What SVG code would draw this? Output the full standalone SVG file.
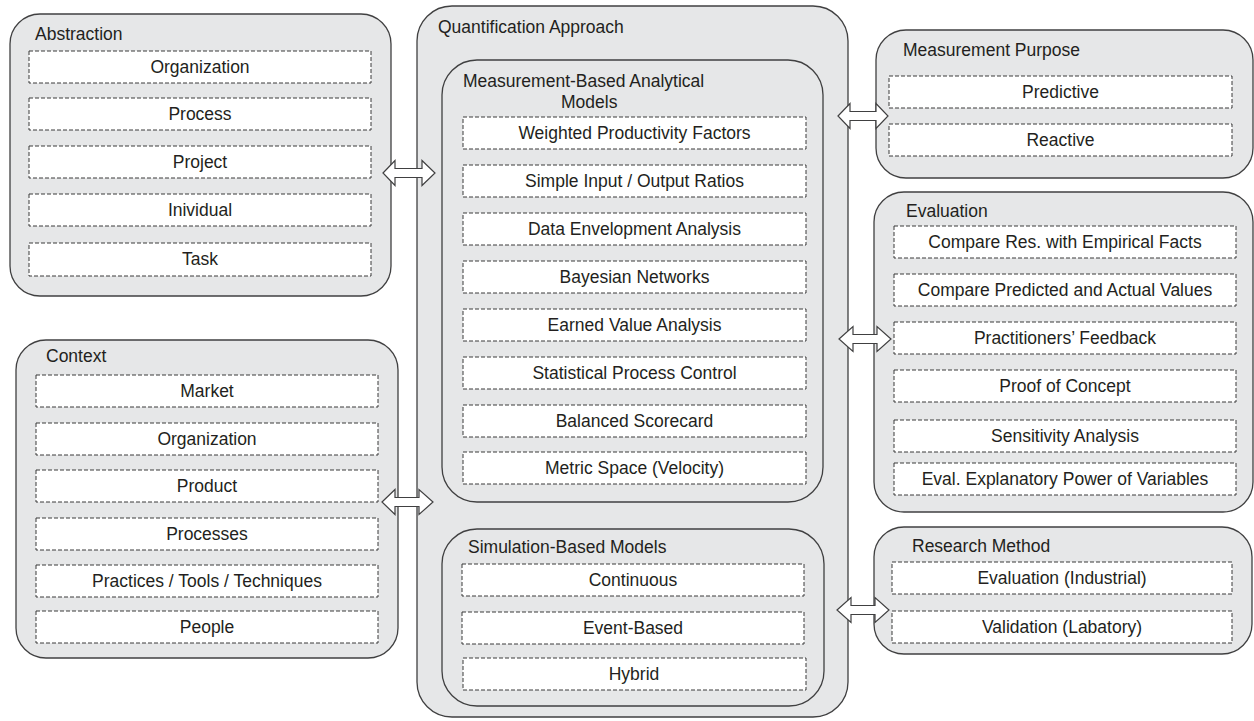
<svg xmlns="http://www.w3.org/2000/svg" width="1254" height="721" viewBox="0 0 1254 721">
  <style>
    .group { fill: #e6e7e8; stroke: #404041; stroke-width: 1.3; }
    .item { fill: #ffffff; stroke: #3a3a3b; stroke-width: 1; stroke-dasharray: 4 2; }
    .title { font-family: "Liberation Sans", Arial, sans-serif; font-size: 17.5px; fill: #231f20; }
    .label { font-family: "Liberation Sans", Arial, sans-serif; font-size: 17.5px; fill: #231f20; text-anchor: middle; }
    .link { fill: #ffffff; stroke: #404041; stroke-width: 1.2; stroke-linejoin: miter; }
  </style>
  <rect width="1254" height="721" fill="#ffffff"/>

  <!-- Abstraction -->
  <g id="abstraction">
    <rect class="group" x="10" y="14" width="381" height="282" rx="30"/>
    <text class="title" x="35" y="40">Abstraction</text>
    <rect class="item" x="29" y="51" width="342" height="32"/>
    <text class="label" x="200" y="73">Organization</text>
    <rect class="item" x="29" y="98" width="342" height="32"/>
    <text class="label" x="200" y="120">Process</text>
    <rect class="item" x="29" y="146" width="342" height="32"/>
    <text class="label" x="200" y="168">Project</text>
    <rect class="item" x="29" y="194" width="342" height="32"/>
    <text class="label" x="200" y="216">Inividual</text>
    <rect class="item" x="29" y="243" width="342" height="33"/>
    <text class="label" x="200" y="265">Task</text>
  </g>

  <!-- Context -->
  <g id="context">
    <rect class="group" x="16" y="340" width="382" height="318" rx="30"/>
    <text class="title" x="46" y="362">Context</text>
    <rect class="item" x="36" y="375" width="342" height="32"/>
    <text class="label" x="207" y="397">Market</text>
    <rect class="item" x="36" y="423" width="342" height="32"/>
    <text class="label" x="207" y="445">Organization</text>
    <rect class="item" x="36" y="470" width="342" height="32"/>
    <text class="label" x="207" y="492">Product</text>
    <rect class="item" x="36" y="518" width="342" height="32"/>
    <text class="label" x="207" y="540">Processes</text>
    <rect class="item" x="36" y="565" width="342" height="32"/>
    <text class="label" x="207" y="587">Practices / Tools / Techniques</text>
    <rect class="item" x="36" y="611" width="342" height="32"/>
    <text class="label" x="207" y="633">People</text>
  </g>

  <!-- Quantification Approach -->
  <g id="quantification">
    <rect class="group" x="417" y="6" width="431" height="711" rx="35"/>
    <text class="title" x="438" y="33">Quantification Approach</text>
  </g>

  <g id="measurement-based">
    <rect class="group" x="442" y="60" width="381" height="442" rx="35"/>
    <text class="title" x="463" y="87">Measurement-Based Analytical</text>
    <text class="title" x="561" y="108">Models</text>
    <rect class="item" x="463" y="117" width="343" height="32"/>
    <text class="label" x="634.5" y="139">Weighted Productivity Factors</text>
    <rect class="item" x="463" y="165" width="343" height="32"/>
    <text class="label" x="634.5" y="187">Simple Input / Output Ratios</text>
    <rect class="item" x="463" y="213" width="343" height="32"/>
    <text class="label" x="634.5" y="235">Data Envelopment Analysis</text>
    <rect class="item" x="463" y="261" width="343" height="32"/>
    <text class="label" x="634.5" y="283">Bayesian Networks</text>
    <rect class="item" x="463" y="309" width="343" height="32"/>
    <text class="label" x="634.5" y="331">Earned Value Analysis</text>
    <rect class="item" x="463" y="357" width="343" height="32"/>
    <text class="label" x="634.5" y="379">Statistical Process Control</text>
    <rect class="item" x="463" y="405" width="343" height="32"/>
    <text class="label" x="634.5" y="427">Balanced Scorecard</text>
    <rect class="item" x="463" y="452" width="343" height="32"/>
    <text class="label" x="634.5" y="474">Metric Space (Velocity)</text>
  </g>

  <g id="simulation-based">
    <rect class="group" x="442" y="529" width="382" height="177" rx="35"/>
    <text class="title" x="468" y="553">Simulation-Based Models</text>
    <rect class="item" x="462" y="564" width="342" height="32"/>
    <text class="label" x="633" y="586">Continuous</text>
    <rect class="item" x="462" y="612" width="342" height="32"/>
    <text class="label" x="633" y="634">Event-Based</text>
    <rect class="item" x="463" y="658" width="343" height="32"/>
    <text class="label" x="634" y="680">Hybrid</text>
  </g>

  <!-- Measurement Purpose -->
  <g id="measurement-purpose">
    <rect class="group" x="876" y="30" width="377" height="148" rx="30"/>
    <text class="title" x="903" y="56">Measurement Purpose</text>
    <rect class="item" x="889" y="76" width="343" height="32"/>
    <text class="label" x="1060.5" y="98">Predictive</text>
    <rect class="item" x="889" y="124" width="343" height="32"/>
    <text class="label" x="1060.5" y="146">Reactive</text>
  </g>

  <!-- Evaluation -->
  <g id="evaluation">
    <rect class="group" x="874" y="192" width="379" height="320" rx="30"/>
    <text class="title" x="906" y="217">Evaluation</text>
    <rect class="item" x="894" y="226" width="342" height="32"/>
    <text class="label" x="1065" y="248">Compare Res. with Empirical Facts</text>
    <rect class="item" x="894" y="274" width="342" height="32"/>
    <text class="label" x="1065" y="296">Compare Predicted and Actual Values</text>
    <rect class="item" x="894" y="322" width="342" height="32"/>
    <text class="label" x="1065" y="344">Practitioners’ Feedback</text>
    <rect class="item" x="894" y="370" width="342" height="32"/>
    <text class="label" x="1065" y="392">Proof of Concept</text>
    <rect class="item" x="894" y="420" width="342" height="32"/>
    <text class="label" x="1065" y="442">Sensitivity Analysis</text>
    <rect class="item" x="894" y="463" width="342" height="32"/>
    <text class="label" x="1065" y="485">Eval. Explanatory Power of Variables</text>
  </g>

  <!-- Research Method -->
  <g id="research-method">
    <rect class="group" x="874" y="527" width="378" height="127" rx="30"/>
    <text class="title" x="912" y="552">Research Method</text>
    <rect class="item" x="892" y="562" width="340" height="32"/>
    <text class="label" x="1062" y="584">Evaluation (Industrial)</text>
    <rect class="item" x="892" y="611" width="340" height="32"/>
    <text class="label" x="1062" y="633">Validation (Labatory)</text>
  </g>

  <!-- Double-headed block arrows between the groups -->
  <g id="connectors">
    <path class="link" d="M383,173 L395,160.5 L395,168.5 L422,168.5 L422,160.5 L435,173 L422,185.5 L422,177.5 L395,177.5 L395,185.5 Z"/>
    <path class="link" d="M382,502 L395,489.5 L395,497.5 L419,497.5 L419,489.5 L433,502 L419,514.5 L419,506.5 L395,506.5 L395,514.5 Z"/>
    <path class="link" d="M838,116 L850,103.5 L850,111.5 L876,111.5 L876,103.5 L888,116 L876,128.5 L876,120.5 L850,120.5 L850,128.5 Z"/>
    <path class="link" d="M839,339 L853,326.5 L853,334.5 L877,334.5 L877,326.5 L891,339 L877,351.5 L877,343.5 L853,343.5 L853,351.5 Z"/>
    <path class="link" d="M837,610 L851,597.5 L851,605.5 L875,605.5 L875,597.5 L889,610 L875,622.5 L875,614.5 L851,614.5 L851,622.5 Z"/>
  </g>
</svg>
